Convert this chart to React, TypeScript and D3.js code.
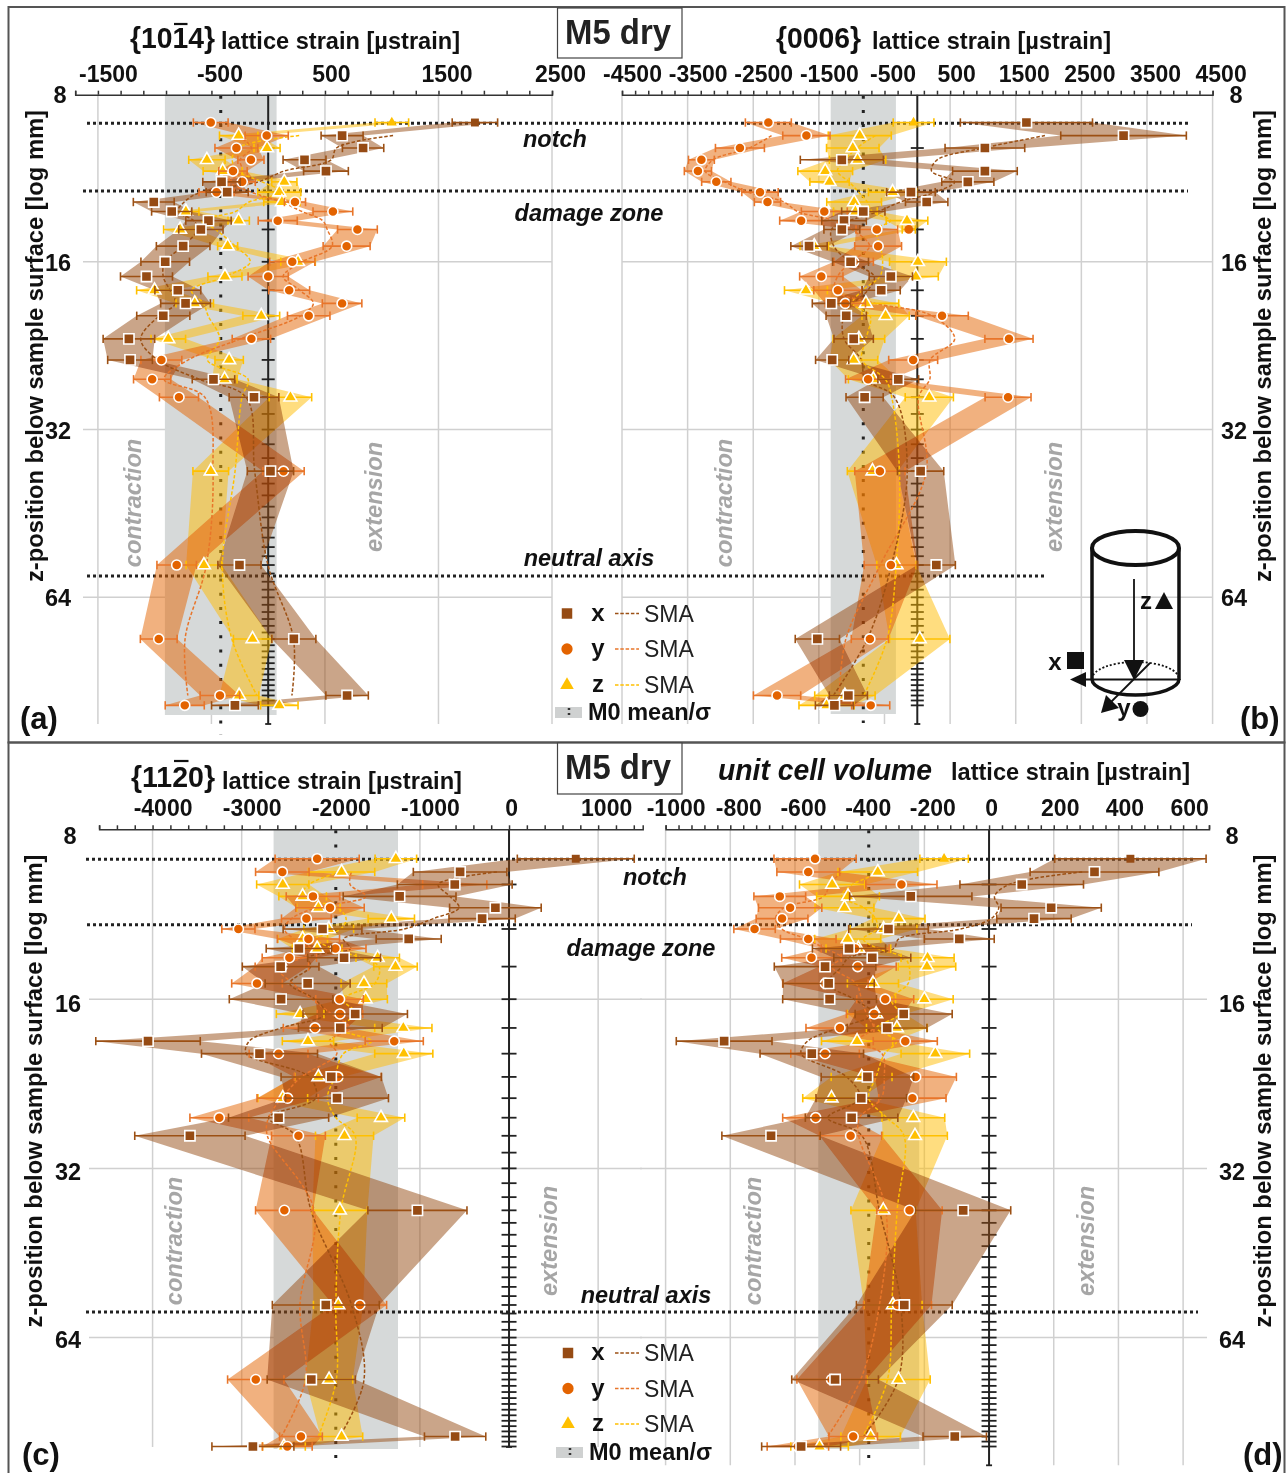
import React, { useEffect, useRef } from 'react';
import * as d3 from 'd3';

const depths = [9, 9.5, 10, 10.5, 11, 11.5, 12, 12.5, 13, 13.5, 14, 15, 16, 17, 18, 19, 20, 22, 24, 26, 28, 38, 56, 76, 96, 100];
const smaDepths = depths.slice(1, -1);
const logTicks = [16, 32, 64];
const zeroTicks = d3.range(10, 101, 2);

// {10-14}
const aXVal = [1821, 651, 836, 320, 509, -411, -361, -1008, -850, -526, -593, -749, -907, -1072, -796, -728, -924, -1227, -1217, -482, -125, 20, -253, 226, 695, -293];
const aXErr = [200, 185, 182, 189, 197, 165, 185, 180, 177, 200, 195, 236, 214, 229, 202, 219, 234, 227, 197, 187, 219, 204, 190, 194, 187, 206];
const aXSma = [1100, 602, 555, 139, -88, -593, -740, -795, -656, -623, -750, -909, -925, -865, -816, -960, -1123, -975, -608, -196, -119, -2, 223, 209];
const aYVal = [-506, -13, -280, -152, -310, -229, -455, 236, 570, 84, 786, 691, 212, 0, 185, 651, 357, -148, -941, -1022, -786, 135, -806, -964, -425, -735];
const aYErr = [153, 190, 189, 115, 125, 115, 155, 93, 175, 172, 175, 207, 199, 177, 180, 174, 187, 169, 180, 164, 172, 182, 174, 162, 174, 172];
const aYSma = [-266, -148, -247, -230, -331, -149, 117, 297, 480, 520, 563, 301, 132, 279, 398, 287, -244, -704, -917, -558, -486, -545, -732, -708];
const aZVal = [1089, -260, -10, -540, -401, 142, 98, 121, -725, -260, -776, -357, 263, -381, -1001, -647, -61, -880, -344, -384, 196, -506, -566, -138, -256, 98];
const aZErr = [148, 169, 115, 160, 172, 111, 190, 160, 115, 94, 145, 88, 152, 150, 158, 165, 162, 152, 125, 110, 187, 157, 157, 168, 174, 165];
const aZSma = [273, -270, -317, -266, -54, 120, -169, -288, -587, -464, -290, -158, -373, -676, -570, -529, -428, -536, -177, -231, -292, -403, -320, -99];

// {0006}
const bXVal = [1663, 3143, 1030, -1150, 1030, 770, -97, 143, -823, -1117, -1150, -1650, -1017, -403, -550, -1310, -1083, -970, -1297, -290, -803, 50, 290, -1523, -1050, -1263];
const bXErr = [1007, 957, 607, 633, 493, 397, 370, 323, 330, 340, 273, 277, 273, 330, 290, 290, 307, 300, 253, 310, 283, 353, 290, 337, 290, 290];
const bXSma = [1945, 1008, 303, 217, 568, 272, -259, -599, -1030, -1306, -1272, -1023, -657, -754, -981, -1121, -1117, -852, -797, -348, -154, -394, -761, -1279];
const bYVal = [-2270, -1690, -2703, -3290, -3343, -3063, -2397, -2283, -1417, -1770, -617, -597, -970, -1463, -1210, -1097, 377, 1397, -63, -750, 1383, -570, -403, -723, -2137, -710];
const bYErr = [350, 360, 373, 197, 207, 223, 277, 200, 350, 327, 317, 357, 300, 330, 367, 307, 400, 367, 373, 343, 350, 383, 407, 283, 360, 290];
const bYSma = [-2221, -2561, -3112, -3232, -2934, -2581, -2032, -1823, -1268, -995, -728, -1010, -1214, -1257, -643, 226, 570, 195, 190, 21, 137, -565, -1088, -1190];
const bZVal = [-57, -877, -983, -910, -1403, -1337, -377, -963, -943, -157, -130, -1570, 10, -23, -1697, -783, -483, -890, -970, -670, 183, -683, -317, 37, -1103, -1383];
const bZErr = [310, 480, 400, 430, 417, 300, 367, 417, 333, 317, 100, 217, 433, 343, 327, 500, 360, 393, 367, 380, 367, 383, 300, 460, 460, 420];
const bZSma = [-639, -923, -1099, -1217, -1039, -892, -761, -688, -410, -619, -563, -528, -570, -834, -988, -719, -781, -843, -486, -390, -272, -321, -461, -816];

// {11-20}
const cXVal = [749, -549, -609, -1228, -153, -302, -2093, -1126, -2358, -1851, -2563, -2260, -2558, -1726, -1893, -4051, -2800, -1995, -1930, -2586, -3581, -1028, -2056, -2219, -605, -2874];
const cXErr = [656, 525, 644, 633, 514, 372, 442, 365, 367, 409, 430, 477, 581, 586, 470, 586, 651, 563, 577, 562, 619, 556, 600, 495, 344, 460];
const cXSma = [-136, -795, -663, -561, -849, -1174, -1859, -1778, -2257, -2225, -2460, -2181, -2059, -2557, -2915, -2949, -2242, -2170, -2699, -2398, -2222, -1768, -1627, -1899];
const cYVal = [-2153, -2544, -609, -2200, -2009, -2274, -3037, -2251, -1949, -2465, -2549, -2828, -1902, -1897, -2177, -1288, -2586, -1921, -2484, -3251, -2363, -2521, -1674, -2842, -2335, -2488];
const cYErr = [472, 300, 360, 300, 384, 279, 186, 349, 344, 305, 300, 284, 267, 256, 356, 326, 330, 488, 344, 330, 302, 323, 300, 316, 240, 279];
const cYSma = [-1769, -1784, -1606, -2161, -2440, -2521, -2412, -2222, -2321, -2614, -2426, -2209, -1992, -1787, -2017, -1932, -2330, -2552, -2699, -2712, -2186, -2346, -2284, -2555];
const cZVal = [-1270, -1879, -2539, -2316, -2139, -1321, -2023, -2316, -2153, -1474, -1274, -1628, -1609, -2344, -1186, -2256, -1181, -2139, -2539, -1437, -1846, -1898, -1916, -2019, -1879, -2526];
const cZErr = [233, 372, 293, 267, 244, 260, 279, 279, 279, 244, 244, 256, 244, 267, 321, 288, 326, 265, 279, 267, 326, 309, 279, 265, 237, 240];
const cZSma = [-1896, -2245, -2331, -1925, -1828, -1887, -2164, -1981, -1667, -1459, -1504, -1860, -1713, -1929, -1541, -1859, -1953, -2038, -1941, -1727, -1887, -1944, -1938, -2141];

// unit cell volume
const dXVal = [437, 326, 101, -242, 192, 139, -311, -92, -433, -361, -507, -496, -493, -264, -315, -819, -548, -376, -395, -425, -674, -80, -262, -476, -106, -581];
const dXErr = [234, 199, 191, 189, 155, 115, 123, 108, 113, 119, 157, 141, 145, 150, 123, 148, 160, 143, 140, 143, 152, 147, 148, 134, 98, 122];
const dXSma = [288, 62, 17, 30, 7, -88, -279, -295, -434, -455, -499, -418, -357, -466, -561, -581, -440, -399, -498, -393, -339, -273, -281, -388];
const dYVal = [-538, -559, -271, -647, -615, -640, -725, -559, -414, -549, -406, -506, -321, -355, -461, -259, -507, -227, -237, -536, -428, -246, -283, -487, -420, -591];
const dYErr = [127, 97, 110, 80, 98, 80, 64, 86, 105, 92, 119, 132, 88, 86, 105, 99, 106, 126, 104, 102, 96, 101, 105, 107, 75, 95];
const dYSma = [-456, -492, -511, -634, -660, -641, -566, -507, -456, -487, -411, -394, -379, -358, -409, -331, -324, -333, -400, -403, -319, -339, -397, -499];
const dZVal = [-139, -344, -485, -436, -447, -279, -326, -437, -404, -190, -192, -359, -200, -349, -285, -408, -166, -394, -487, -234, -229, -327, -297, -280, -366, -524];
const dZErr = [75, 123, 101, 97, 91, 81, 103, 102, 100, 82, 89, 79, 89, 89, 94, 110, 106, 94, 89, 97, 100, 100, 90, 98, 92, 89];
const dZSma = [-323, -422, -456, -387, -351, -347, -389, -344, -262, -247, -250, -303, -278, -347, -286, -323, -349, -372, -316, -263, -284, -301, -314, -390];

const FONT = '"Liberation Sans", Arial, sans-serif';
const colX = '#964b14';
const colY = '#e36300';
const colZ = '#ffbb00';
const barX = '#9c5014';
const barY = '#e8752a';
const barZ = '#ffc000';

const panels = [
  {
    domain: [-1700, 2500], range: [75.2, 552], yRange: [94, 724], axisY: 94.7, step: 200,
    majors: [-1500, -500, 500, 1500, 2500], mean: -418, sd: 492, bandBottom: 715, meanBottom: 735,
    hLeft: 83, hRight: 552, tickHalf: 6.5,
    plainX: [0], plainZ: [0],
    x: [aXVal, aXErr, aXSma], y: [aYVal, aYErr, aYSma], z: [aZVal, aZErr, aZSma],
  },
  {
    domain: [-4500, 4500], range: [622, 1212.6], yRange: [94, 724], axisY: 94.7, step: 200,
    majors: [-4500, -3500, -2500, -1500, -500, 500, 1500, 2500, 3500, 4500], mean: -823, sd: 497, bandBottom: 714, meanBottom: 723,
    hLeft: 622, hRight: 1212, tickHalf: 6.5,
    plainX: [], plainZ: [0], dotZ: [10],
    x: [bXVal, bXErr, bXSma], y: [bYVal, bYErr, bYSma], z: [bZVal, bZErr, bZSma],
  },
  {
    domain: [-4600, 1500], range: [99.1, 642.7], yRange: [830, 1465.3], axisY: 829.3, step: 200, tickEnd: 1400,
    majors: [-4000, -3000, -2000, -1000, 0, 1000], mean: -1944, sd: 698, bandBottom: 1449, meanBottom: 1458,
    hLeft: 89, hRight: 642, tickHalf: 7.5, zeroBottom: 1447, gridBottom: 1447,
    plainX: [0], plainZ: [],
    x: [cXVal, cXErr, cXSma], y: [cYVal, cYErr, cYSma], z: [cZVal, cZErr, cZSma],
  },
  {
    domain: [-1000, 680], range: [665.6, 1209], yRange: [830, 1465.3], axisY: 829.3, step: 40,
    majors: [-1000, -800, -600, -400, -200, 0, 200, 400, 600], mean: -372, sd: 156, bandBottom: 1449, meanBottom: 1463,
    hLeft: 640, hRight: 1207, tickHalf: 7.5,
    plainX: [0], plainZ: [0],
    x: [dXVal, dXErr, dXSma], y: [dYVal, dYErr, dYSma], z: [dZVal, dZErr, dZSma],
  },
];

function addText(g, str, x, y, o: any = {}) {
  const t = g.append('text')
    .attr('x', x).attr('y', y)
    .attr('font-family', FONT)
    .attr('font-size', o.size || 22)
    .attr('font-weight', o.weight || 'bold')
    .attr('font-style', o.italic ? 'italic' : 'normal')
    .attr('fill', o.fill || '#111')
    .attr('text-anchor', o.anchor || 'start')
    .text(str);
  if (o.rotate) t.attr('text-anchor', 'middle').attr('transform', `rotate(-90 ${x} ${y})`);
  if (o.len) t.attr('textLength', o.len).attr('lengthAdjust', 'spacingAndGlyphs');
  return t;
}

function scales(p) {
  const x = d3.scaleLinear().domain(p.domain).range(p.range);
  const y = d3.scaleLog().base(2).domain([8, 108]).range(p.yRange);
  return { x, y };
}

function drawBase(svg, p) {
  const { x, y } = scales(p);
  const g = svg.append('g');
  const gridBottom = p.gridBottom || p.yRange[1];

  // grid
  g.selectAll('.vgrid').data(p.majors.filter((m) => m !== 0)).enter().append('line')
    .attr('x1', (d) => x(d)).attr('x2', (d) => x(d))
    .attr('y1', p.axisY).attr('y2', gridBottom)
    .attr('stroke', '#d0d0d0').attr('stroke-width', 1.5);
  g.selectAll('.hgrid').data(logTicks).enter().append('line')
    .attr('x1', p.hLeft).attr('x2', p.hRight)
    .attr('y1', (d) => y(d)).attr('y2', (d) => y(d))
    .attr('stroke', '#d0d0d0').attr('stroke-width', 1.5);

  // M0 mean / sigma
  g.append('rect')
    .attr('x', x(p.mean - p.sd)).attr('width', x(p.mean + p.sd) - x(p.mean - p.sd))
    .attr('y', p.axisY).attr('height', p.bandBottom - p.axisY)
    .attr('fill', '#d6d9d9');
  g.append('line')
    .attr('x1', x(p.mean)).attr('x2', x(p.mean))
    .attr('y1', p.axisY + 1).attr('y2', p.meanBottom)
    .attr('stroke', '#222').attr('stroke-width', 3).attr('stroke-dasharray', '3 11.2');

  // zero line
  const zeroBottom = p.zeroBottom || p.yRange[1];
  g.append('line')
    .attr('x1', x(0)).attr('x2', x(0)).attr('y1', p.axisY).attr('y2', zeroBottom)
    .attr('stroke', '#222').attr('stroke-width', 2);
  g.selectAll('.zt').data(zeroTicks).enter().append('line')
    .attr('x1', x(0) - p.tickHalf).attr('x2', x(0) + p.tickHalf)
    .attr('y1', (d) => y(d)).attr('y2', (d) => y(d))
    .attr('stroke', '#222').attr('stroke-width', 1.8);
  g.append('line')
    .attr('x1', x(0) - 3).attr('x2', x(0) + 3).attr('y1', zeroBottom).attr('y2', zeroBottom)
    .attr('stroke', '#222').attr('stroke-width', 1.8);

  // top axis
  const tickEnd = p.tickEnd || p.domain[1];
  const axis = d3.axisTop(x)
    .tickValues(d3.range(p.domain[0], tickEnd + 1, p.step))
    .tickSize(4)
    .tickSizeOuter(4)
    .tickFormat((d) => (p.majors.includes(d) ? String(d) : ''));
  const ag = g.append('g').attr('transform', `translate(0,${p.axisY})`).call(axis);
  ag.selectAll('path,line').attr('stroke', '#333').attr('stroke-width', 1.5);
  ag.selectAll('text')
    .attr('font-family', FONT).attr('font-size', 23).attr('font-weight', 'bold')
    .attr('fill', '#111').attr('y', -13)
    .attr('dx', function () {
      const n = this.textContent.length;
      return n === 1 ? 2 : n === 3 ? 6 : n === 4 ? 8 : 10;
    });
}

function drawSeries(svg, p) {
  const { x, y } = scales(p);
  const g = svg.append('g');

  const series = [
    { s: p.z, fill: colZ, bar: barZ, mark: barZ, sym: d3.symbolTriangle, size: 72, plain: p.plainZ, dots: p.dotZ || [] },
    { s: p.y, fill: colY, bar: barY, mark: colY, sym: d3.symbolCircle, size: 80, plain: [], dots: [] },
    { s: p.x, fill: colX, bar: barX, mark: colX, sym: d3.symbolSquare, size: 105, plain: p.plainX, dots: [] },
  ];

  // bands multiply among themselves, but not with the grey band below
  const bandGroup = g.append('g').style('isolation', 'isolate');
  series.forEach((c) => {
    const [val, err] = c.s;
    const area = d3.area()
      .x0((d, i) => x(val[i] - err[i]))
      .x1((d, i) => x(val[i] + err[i]))
      .y((d) => y(d));
    bandGroup.append('path').attr('d', area(depths)).attr('fill', c.fill).attr('fill-opacity', 0.5)
      .style('mix-blend-mode', 'multiply');
  });

  // moving averages
  series.forEach((c) => {
    const sma = c.s[2];
    const line = d3.line()
      .x((d, i) => x(sma[i]))
      .y((d) => y(d))
      .curve(d3.curveCatmullRom.alpha(0.5));
    g.append('path').attr('d', line(smaDepths)).attr('fill', 'none')
      .attr('stroke', c.bar).attr('stroke-width', 1.5).attr('stroke-dasharray', '3.5 2');
  });

  // error bars and markers
  series.forEach((c) => {
    const [val, err] = c.s;
    const rows = depths.map((d, i) => ({ d, v: val[i], e: err[i], i }));
    const eg = g.append('g').attr('stroke', c.bar).attr('stroke-width', 1.6);
    eg.selectAll('.bar').data(rows).enter().append('line')
      .attr('x1', (r) => x(r.v - r.e)).attr('x2', (r) => x(r.v + r.e))
      .attr('y1', (r) => y(r.d)).attr('y2', (r) => y(r.d));
    [-1, 1].forEach((sign) => {
      eg.selectAll('.cap' + sign).data(rows).enter().append('line')
        .attr('x1', (r) => x(r.v + sign * r.e)).attr('x2', (r) => x(r.v + sign * r.e))
        .attr('y1', (r) => y(r.d) - 4.2).attr('y2', (r) => y(r.d) + 4.2);
    });
    const mg = g.append('g');
    mg.selectAll('path').data(rows).enter().append('path')
      .attr('d', (r) => {
        if (c.dots.includes(r.i)) return d3.symbol().type(d3.symbolCircle).size(60)();
        return d3.symbol().type(c.sym).size(c.plain.includes(r.i) ? c.size * 0.6 : c.size)();
      })
      .attr('transform', (r) => `translate(${x(r.v)},${y(r.d)})`)
      .attr('fill', (r) => (c.dots.includes(r.i) ? colY : c.mark))
      .attr('stroke', (r) => (c.plain.includes(r.i) || c.dots.includes(r.i) ? 'none' : '#fff'))
      .attr('stroke-width', 1.6);
  });
}

function drawBoxes(svg) {
  svg.append('rect').attr('width', 1286).attr('height', 1473).attr('fill', '#fff');
  svg.append('rect').attr('x', 8.5).attr('y', 7).attr('width', 1276).attr('height', 735.5)
    .attr('fill', 'none').attr('stroke', '#555').attr('stroke-width', 2);
  svg.append('rect').attr('x', 8.5).attr('y', 742.5).attr('width', 1276).attr('height', 740)
    .attr('fill', 'none').attr('stroke', '#555').attr('stroke-width', 2);
}

function drawDotted(svg) {
  const rows = [
    [87, 1190, 123.3], [83, 1188, 191], [87, 1044, 576],
    [86, 1195, 859.3], [87, 1192, 924.7], [86, 1198, 1312],
  ];
  svg.selectAll('.dotted').data(rows).enter().append('line')
    .attr('x1', (d) => d[0]).attr('x2', (d) => d[1])
    .attr('y1', (d) => d[2]).attr('y2', (d) => d[2])
    .attr('stroke', '#222').attr('stroke-width', 3).attr('stroke-dasharray', '3 3');
}

function drawLabels(svg) {
  // titles
  [[557.5, 8, 50, 44], [557.5, 743, 51, 779]].forEach(([bx, by, bh, base]) => {
    svg.append('rect').attr('x', bx).attr('y', by).attr('width', 124.5).attr('height', bh)
      .attr('fill', '#fff').attr('stroke', '#444').attr('stroke-width', 1.2);
    addText(svg, 'M5 dry', 618, base, { size: 35, anchor: 'middle', fill: '#222', len: 106 });
  });
  addText(svg, '{1014}', 130, 48, { size: 30, len: 85 });
  svg.append('line').attr('x1', 174).attr('x2', 187.5).attr('y1', 24).attr('y2', 24).attr('stroke', '#111').attr('stroke-width', 2.2);
  addText(svg, 'lattice strain [µstrain]', 221, 49, { size: 24, len: 239 });
  addText(svg, '{0006}', 776, 48, { size: 30, len: 85 });
  addText(svg, 'lattice strain [µstrain]', 872, 49, { size: 24, len: 239 });
  addText(svg, '{1120}', 131, 787, { size: 30, len: 84 });
  svg.append('line').attr('x1', 174).attr('x2', 188.5).attr('y1', 761).attr('y2', 761).attr('stroke', '#111').attr('stroke-width', 2.2);
  addText(svg, 'lattice strain [µstrain]', 222, 789, { size: 24, len: 240 });
  addText(svg, 'unit cell volume', 718, 780, { size: 29, italic: true, len: 214 });
  addText(svg, 'lattice strain [µstrain]', 951, 780, { size: 24, len: 239 });

  // y axes
  const yLabels = [
    [[60, 94], [58, 262], [58, 430], [58, 597.5]],
    [[1236, 94], [1234, 262], [1234, 430], [1234, 597.5]],
    [[70, 835], [68, 1003], [68, 1171], [68, 1339]],
    [[1232, 835], [1232, 1003], [1232, 1171], [1232, 1339]],
  ];
  yLabels.forEach((col) => col.forEach(([px, py], i) => {
    addText(svg, String(8 * 2 ** i), px, py + 8.5, { size: 23.5, anchor: 'middle' });
  }));
  const yTitle = 'z-position below sample surface [log mm]';
  addText(svg, yTitle, 43, 346, { rotate: true, size: 24, len: 472 });
  addText(svg, yTitle, 1271, 346, { rotate: true, size: 24, len: 472 });
  addText(svg, yTitle, 42, 1091, { rotate: true, size: 24, len: 473 });
  addText(svg, yTitle, 1271, 1091, { rotate: true, size: 24, len: 473 });

  // annotations
  const ann = [
    ['notch', 555, 147], ['damage zone', 589, 221], ['neutral axis', 589, 566],
    ['notch', 655, 885], ['damage zone', 641, 956], ['neutral axis', 646, 1303],
  ];
  ann.forEach(([s, ax, ay]) => addText(svg, s, ax, ay, { italic: true, anchor: 'middle', size: 23.5 }));
  const grey = { rotate: true, italic: true, fill: '#a6a6a6', size: 23.6 };
  [[141, 503], [732, 503], [182, 1241], [761, 1241]].forEach(([gx, gy]) => addText(svg, 'contraction', gx, gy, grey));
  [[382, 497], [1062, 497], [557, 1241], [1094, 1241]].forEach(([gx, gy]) => addText(svg, 'extension', gx, gy, grey));

  addText(svg, '(a)', 20, 729, { size: 31 });
  addText(svg, '(b)', 1240, 729, { size: 31 });
  addText(svg, '(c)', 22, 1465, { size: 31 });
  addText(svg, '(d)', 1243, 1465, { size: 31 });
}

function drawLegend(svg, rows, mx, lx, sx, mean) {
  const kinds = [
    { name: 'x', sym: d3.symbolSquare, size: 110, fill: colX, line: barX },
    { name: 'y', sym: d3.symbolCircle, size: 100, fill: colY, line: barY },
    { name: 'z', sym: d3.symbolTriangle, size: 80, fill: barZ, line: barZ },
  ];
  kinds.forEach((k, i) => {
    svg.append('path').attr('d', d3.symbol().type(k.sym).size(k.size)())
      .attr('transform', `translate(${mx},${rows[i]})`).attr('fill', k.fill);
    addText(svg, k.name, lx, rows[i] + 7, { size: 24, anchor: 'middle' });
    svg.append('line').attr('x1', lx + 17).attr('x2', lx + 41)
      .attr('y1', rows[i]).attr('y2', rows[i])
      .attr('stroke', k.line).attr('stroke-width', 1.4).attr('stroke-dasharray', '3.5 1.8');
    addText(svg, 'SMA', sx, rows[i] + 8, { size: 23, weight: 'normal', fill: '#222' });
  });
  svg.append('rect').attr('x', mx - 12).attr('y', mean - 5).attr('width', 27).attr('height', 11).attr('fill', '#cfd1d1');
  svg.append('line').attr('x1', mx + 2).attr('x2', mx + 2).attr('y1', mean - 4).attr('y2', mean + 4)
    .attr('stroke', '#333').attr('stroke-width', 2.5).attr('stroke-dasharray', '2 3');
  addText(svg, 'M0 mean/σ', mx + 21, mean + 8, { size: 23.5 });
}

function drawCylinder(svg) {
  const g = svg.append('g').attr('fill', 'none').attr('stroke', '#111');
  const cx = 1135.5;
  const rx = 43.5;
  g.append('ellipse').attr('cx', cx).attr('cy', 548).attr('rx', rx).attr('ry', 17).attr('stroke-width', 4);
  g.append('line').attr('x1', cx - rx).attr('x2', cx - rx).attr('y1', 548).attr('y2', 680).attr('stroke-width', 3.5);
  g.append('line').attr('x1', cx + rx).attr('x2', cx + rx).attr('y1', 548).attr('y2', 680).attr('stroke-width', 3.5);
  g.append('path').attr('d', `M${cx - rx},679 A${rx},16 0 0 0 ${cx + rx},679`).attr('stroke-width', 3.5);
  g.append('path').attr('d', `M${cx - rx},679 A${rx},17 0 0 1 ${cx + rx},679`).attr('stroke-width', 1.8).attr('stroke-dasharray', '2 2');
  g.append('line').attr('x1', cx + rx).attr('x2', 1078).attr('y1', 679.5).attr('y2', 679.5).attr('stroke-width', 2.2);
  g.append('line').attr('x1', 1134).attr('x2', 1134).attr('y1', 579).attr('y2', 668).attr('stroke-width', 1.8);
  g.append('line').attr('x1', 1150).attr('x2', 1108).attr('y1', 663).attr('y2', 705).attr('stroke-width', 1.8);
  const k = svg.append('g').attr('fill', '#111');
  k.append('path').attr('d', 'M1124,660 L1144,660 L1134,680 Z');
  k.append('path').attr('d', 'M1070,679.5 L1086,672 L1086,687 Z');
  k.append('path').attr('d', 'M1101,713 L1106,695 L1119,708 Z');
  k.append('path').attr('d', 'M1164,592 L1173,609 L1155,609 Z');
  k.append('rect').attr('x', 1067).attr('y', 652).attr('width', 17).attr('height', 17);
  k.append('circle').attr('cx', 1140.5).attr('cy', 709).attr('r', 8);
  addText(svg, 'z', 1146, 609, { size: 24, anchor: 'middle' });
  addText(svg, 'x', 1055, 670, { size: 24, anchor: 'middle' });
  addText(svg, 'y', 1124, 716, { size: 24, anchor: 'middle' });
}

export default function App() {
  const ref = useRef(null);

  useEffect(() => {
    const svg = d3.select(ref.current);
    svg.selectAll('*').remove();
    drawBoxes(svg);
    panels.forEach((p) => drawBase(svg, p));
    // dotted zone lines sit over the grey band, under the strain bands
    drawDotted(svg);
    panels.forEach((p) => drawSeries(svg, p));
    drawLabels(svg);
    drawLegend(svg, [613.5, 649, 685], 567, 598, 644, 712);
    drawLegend(svg, [1353, 1388.5, 1424], 568, 598, 644, 1452);
    drawCylinder(svg);
  }, []);

  return <svg ref={ref} width={1286} height={1473} style={{ position: 'absolute', left: 0, top: 0, background: '#fff' }} />;
}
